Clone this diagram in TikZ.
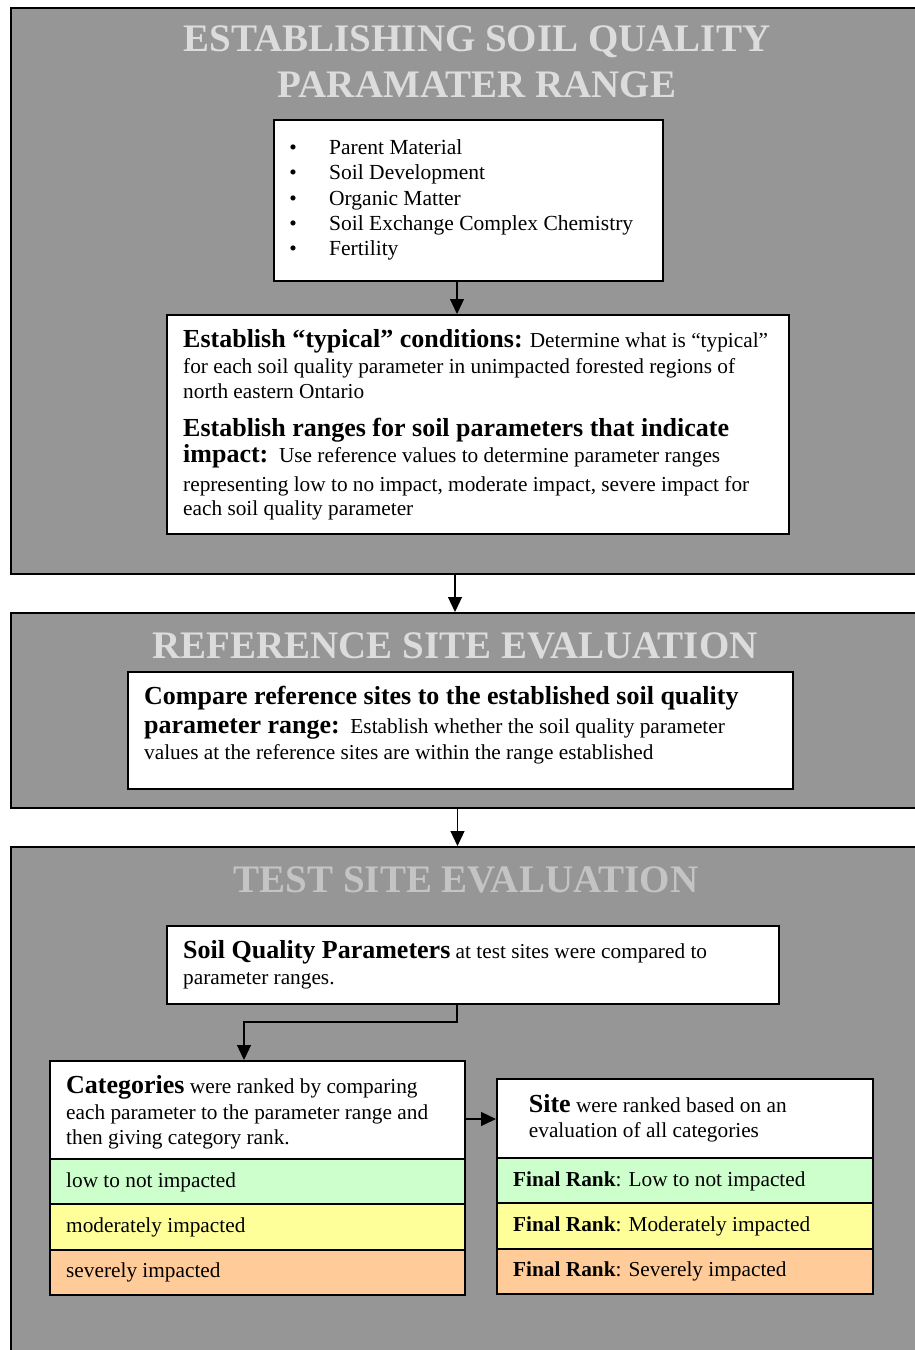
\documentclass[tikz,border=0pt]{standalone}
\usepackage{fontspec}
\setmainfont{Liberation Serif}
\usetikzlibrary{arrows.meta}
\definecolor{panelgray}{HTML}{969696}
\definecolor{titlegray}{HTML}{DCDCDC}
\definecolor{titlegraydim}{HTML}{C4C4C4}
\definecolor{rowgreen}{HTML}{CCFFCC}
\definecolor{rowyellow}{HTML}{FFFF99}
\definecolor{roworange}{HTML}{FFCC99}
\newcommand{\hdtxt}[1]{{\fontsize{26}{30}\selectfont\bfseries #1}}
\tikzset{
  panel/.style={draw=black, line width=1.8pt, fill=panelgray, anchor=north west, inner sep=0pt},
  wbox/.style={draw=black, line width=1.5pt, fill=white, anchor=north west, inner sep=0pt},
  ttl/.style={font=\fontsize{39}{46}\selectfont\bfseries, text=titlegray, anchor=base, inner sep=0pt},
  txt/.style={font=\fontsize{21.3}{25.5}\selectfont, anchor=base west, inner sep=0pt},
  bul/.style={font=\fontsize{21.3}{25.5}\selectfont, anchor=base, inner sep=0pt},
  arr/.style={line width=1.2pt, -{Triangle[width=14pt,length=15pt]}},
}
\begin{document}
\begin{tikzpicture}[x=1pt,y=-1pt]
\useasboundingbox (0,0) rectangle (914,1350);
% panels
\node[panel, minimum width=930pt, minimum height=566pt] (p1) at (10,7) {};
\node[panel, minimum width=930pt, minimum height=195pt] (p2) at (10,612) {};
\node[panel, minimum width=930pt, minimum height=540pt] (p3) at (10,846) {};
% titles
\node[ttl] (t1a) at (477,51) {ESTABLISHING SOIL QUALITY};
\node[ttl] (t1b) at (477,97) {PARAMATER RANGE};
\node[ttl] (t2) at (455,658) {REFERENCE SITE EVALUATION};
\node[ttl, text=titlegraydim] (t3) at (466,892) {TEST SITE EVALUATION};
% bullet box
\node[wbox, minimum width=389pt, minimum height=161pt] (bx1) at (273,119) {};
\node[bul] (d1) at (293,154) {\textbullet};
\node[bul] (d2) at (293,179.3) {\textbullet};
\node[bul] (d3) at (293,205) {\textbullet};
\node[bul] (d4) at (293,230) {\textbullet};
\node[bul] (d5) at (293,255) {\textbullet};
\node[txt, font=\fontsize{21.5}{25.5}\selectfont] (l1) at (329,154) {Parent Material};
\node[txt, font=\fontsize{21.5}{25.5}\selectfont] (l2) at (329,179.3) {Soil Development};
\node[txt, font=\fontsize{21.5}{25.5}\selectfont] (l3) at (329,205) {Organic Matter};
\node[txt, font=\fontsize{21.5}{25.5}\selectfont] (l4) at (329,230) {Soil Exchange Complex Chemistry};
\node[txt, font=\fontsize{21.5}{25.5}\selectfont] (l5) at (329,255) {Fertility};
% establish box
\node[wbox, minimum width=622pt, minimum height=219pt] (bx2) at (166,314) {};
\node[txt] (e1) at (183,347) {\hdtxt{Establish “typical” conditions:} Determine what is “typical”};
\node[txt] (e2) at (183,373) {for each soil quality parameter in unimpacted forested regions of};
\node[txt] (e3) at (183,398) {north eastern Ontario};
\node[txt] (e4) at (183,436.5) {\hdtxt{Establish ranges for soil parameters that indicate}};
\node[txt] (e5) at (183,462.5) {\hdtxt{impact:}\ \ Use reference values to determine parameter ranges};
\node[txt] (e6) at (183,491) {representing low to no impact, moderate impact, severe impact for};
\node[txt] (e7) at (183,515.5) {each soil quality parameter};
% reference box
\node[wbox, minimum width=665pt, minimum height=117pt] (bx3) at (127,671) {};
\node[txt] (r1) at (144,704.3) {\hdtxt{Compare reference sites to the established soil quality}};
\node[txt] (r2) at (144,733.5) {\hdtxt{parameter range:}\ \ Establish whether the soil quality parameter};
\node[txt] (r3) at (144,759.5) {values at the reference sites are within the range established};
% soil quality parameters box
\node[wbox, minimum width=612pt, minimum height=78pt] (bx4) at (166,925) {};
\node[txt] (s1) at (183,958) {\hdtxt{Soil Quality Parameters} at test sites were compared to};
\node[txt] (s2) at (183,984) {parameter ranges.};
% categories
\node[wbox, minimum width=415pt, minimum height=98pt] (cat) at (49,1060) {};
\node[wbox, fill=rowgreen, minimum width=415pt, minimum height=45pt] (catg) at (49,1158) {};
\node[wbox, fill=rowyellow, minimum width=415pt, minimum height=46pt] (caty) at (49,1203) {};
\node[wbox, fill=roworange, minimum width=415pt, minimum height=45pt] (cato) at (49,1249) {};
\node[txt] (c1) at (66,1093) {\hdtxt{Categories} were ranked by comparing};
\node[txt] (c2) at (66,1119.3) {each parameter to the parameter range and};
\node[txt] (c3) at (66,1144) {then giving category rank.};
\node[txt] (c4) at (66,1187) {low to not impacted};
\node[txt] (c5) at (66,1232) {moderately impacted};
\node[txt] (c6) at (66,1277.5) {severely impacted};
% site
\node[wbox, minimum width=376pt, minimum height=79pt] (site) at (496,1078) {};
\node[wbox, fill=rowgreen, minimum width=376pt, minimum height=45pt] (siteg) at (496,1157) {};
\node[wbox, fill=rowyellow, minimum width=376pt, minimum height=46pt] (sitey) at (496,1202) {};
\node[wbox, fill=roworange, minimum width=376pt, minimum height=45pt] (siteo) at (496,1248) {};
\node[txt] (f1) at (528.7,1112) {\hdtxt{Site} were ranked based on an};
\node[txt] (f2) at (528.7,1137.5) {evaluation of all categories};
\node[txt] (f3) at (513,1186) {\textbf{Final Rank}: Low to not impacted};
\node[txt] (f4) at (513,1231.3) {\textbf{Final Rank}: Moderately impacted};
\node[txt] (f5) at (513,1276.7) {\textbf{Final Rank}: Severely impacted};
% connectors
\coordinate (ka) at (457,0);
\coordinate (kb) at (455,0);
\coordinate (kc) at (457.5,0);
\coordinate (k1) at (457,1022);
\coordinate (k2) at (244,1022);
\coordinate (k3) at (0,1119);
\draw[arr] (bx1.south -| ka) -- (bx2.north -| ka);
\draw[arr] (p1.south -| kb) -- (p2.north -| kb);
\draw[arr] (p2.south -| kc) -- (p3.north -| kc);
\draw[arr] (bx4.south -| k1) -- (k1) -- (k2) -- (cat.north -| k2);
\draw[arr] (cat.east |- k3) -- (site.west |- k3);
\end{tikzpicture}
\end{document}
